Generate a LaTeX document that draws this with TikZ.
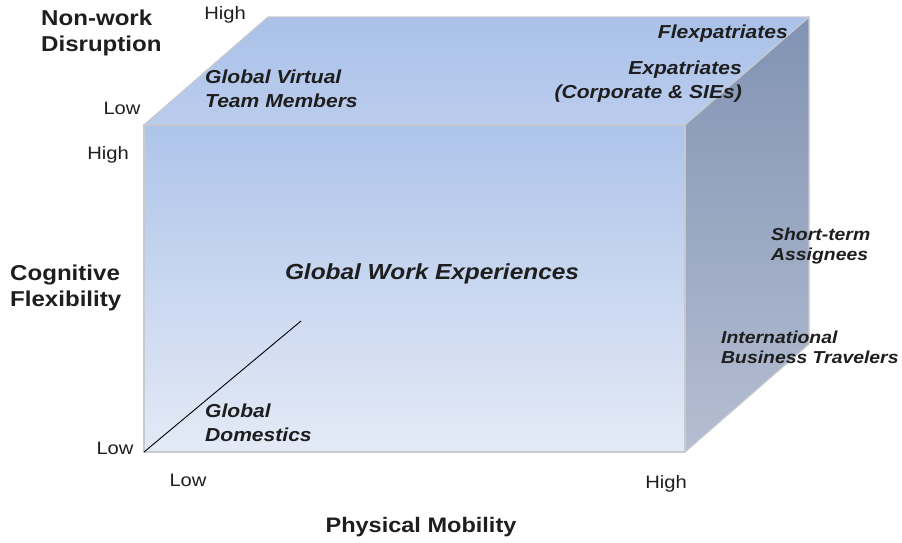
\documentclass[tikz,border=0pt]{standalone}
\usepackage{fontspec}
\setmainfont{Liberation Sans}[FakeStretch=1.12]
\usepackage{tikz}

\definecolor{topback}{HTML}{AAC1E8}
\definecolor{topfront}{HTML}{BBCDEE}
\definecolor{fronttop}{HTML}{AEC4EA}
\definecolor{frontbot}{HTML}{E4EAF6}
\definecolor{sidetop}{HTML}{8193B3}
\definecolor{sidebot}{HTML}{B5BED2}
\definecolor{edge}{HTML}{C6C9CE}
\definecolor{ink}{HTML}{1E1E1E}

\begin{document}
\begin{tikzpicture}[x=1pt, y=-1pt,
    axis/.style={font=\fontsize{21.5}{26}\selectfont\bfseries, align=left, inner sep=0, text=ink},
    level/.style={font=\fontsize{18}{20}\selectfont, inner sep=0, text=ink},
    group/.style={font=\fontsize{18.8}{24}\selectfont\bfseries\itshape, inner sep=0, text=ink},
    smallgroup/.style={group, font=\fontsize{17.3}{20}\selectfont\bfseries\itshape},
    face/.style={draw=edge, line width=1.2pt, line join=round}]
  \useasboundingbox (0,0) rectangle (902,542);

  % cube corners
  \coordinate (flt) at (144,125);
  \coordinate (frt) at (685,125);
  \coordinate (flb) at (144,452);
  \coordinate (frb) at (685,452);
  \coordinate (blt) at (268,17);
  \coordinate (brt) at (809,17);
  \coordinate (brb) at (809,344);
  \coordinate (dg) at (301,321);

  \shade[face, top color=topback, bottom color=topfront] (flt) -- (blt) -- (brt) -- (frt) -- cycle;
  \shade[face, top color=sidetop, bottom color=sidebot] (frt) -- (brt) -- (brb) -- (frb) -- cycle;
  \shade[face, top color=fronttop, bottom color=frontbot] (flt) -- (frt) -- (frb) -- (flb) -- cycle;
  \draw[black, line width=0.9pt] (flb) -- (dg);

  % axis titles and scale ends
  \node[axis, anchor=west] (nwd) at (41,33) {Non-work\\Disruption};
  \node[axis, anchor=west] (cf) at (10,288) {Cognitive\\Flexibility};
  \node[axis, font=\fontsize{21}{26}\selectfont\bfseries] (pm) at (421,527) {Physical Mobility};
  \node[level] (nwhigh) at (225,15) {High};
  \node[level] (nwlow) at (122,108) {Low};
  \node[level] (cfhigh) at (108,155) {High};
  \node[level] (cflow) at (115,448) {Low};
  \node[level] (pmlow) at (188,480) {Low};
  \node[level] (pmhigh) at (666,484) {High};

  % groups on the cube
  \node[group, anchor=west, align=left] (gvt) at (205,89) {Global Virtual\\Team Members};
  \node[group, anchor=east] (flex) at (788,34) {Flexpatriates};
  \node[group, anchor=east, align=right] (expat) at (742,82) {Expatriates\\(Corporate \& SIEs)};
  \node[group, font=\fontsize{21.8}{24}\selectfont\bfseries\itshape] (gwe) at (432,274) {Global Work Experiences};
  \node[smallgroup, anchor=west, align=left] (sta) at (771,246) {Short-term\\Assignees};
  \node[smallgroup, anchor=west, align=left] (ibt) at (721,347) {International\\Business Travelers};
  \node[group, anchor=west, align=left] (gd) at (205,423) {Global\\Domestics};
\end{tikzpicture}
\end{document}
